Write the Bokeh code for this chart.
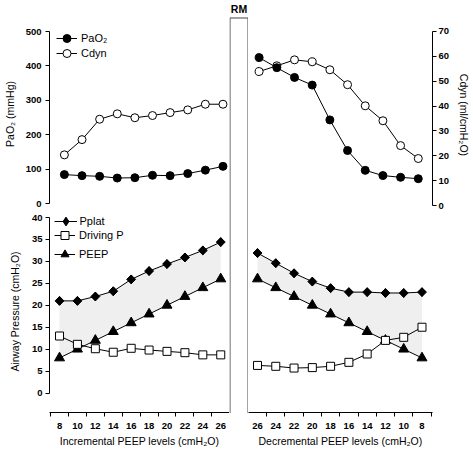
import math
from bokeh.plotting import figure
from bokeh.models import Range1d, LinearAxis, FixedTicker, Legend, LegendItem, Label
from bokeh.layouts import row, column
from bokeh.embed import file_html
from bokeh.resources import INLINE

FONT = "Liberation Sans"

# ---------------- data ----------------
peep_inc = [8, 10, 12, 14, 16, 18, 20, 22, 24, 26]
peep_dec = [26, 24, 22, 20, 18, 16, 14, 12, 10, 8]

pao2_inc = [84, 81, 79, 74, 75, 82, 81, 87, 97, 108]
cdyn_inc = [19.8, 26.0, 34.3, 36.5, 34.9, 35.8, 37.0, 38.1, 40.4, 40.4]
pao2_dec = [425, 396, 368, 346, 246, 158, 101, 86, 81, 77]
cdyn_dec = [53.9, 56.2, 58.6, 57.8, 54.6, 48.6, 40.1, 34.1, 24.1, 18.9]

pplat_inc = [21.0, 21.0, 22.0, 23.2, 25.9, 27.8, 29.4, 30.9, 32.5, 34.4]
dp_inc = [13.0, 11.1, 10.1, 9.3, 10.2, 9.8, 9.5, 9.2, 8.7, 8.7]
peepval_inc = [8, 10, 12, 14, 16, 18, 20, 22, 24, 26]

pplat_dec = [31.9, 29.6, 27.3, 25.4, 23.9, 23.0, 23.0, 22.8, 22.8, 23.0]
dp_dec = [6.3, 6.1, 5.7, 5.8, 6.1, 7.0, 8.9, 12.0, 12.7, 15.0]
peepval_dec = [26, 24, 22, 20, 18, 16, 14, 12, 10, 8]

pao2_ticks = [0, 100, 200, 300, 400, 500]
cdyn_ticks = [0, 10, 20, 30, 40, 50, 60, 70]
paw_ticks = [0, 5, 10, 15, 20, 25, 30, 35, 40]
x_label_ticks = [8, 10, 12, 14, 16, 18, 20, 22, 24, 26]
x_mark_ticks = [7, 9, 11, 13, 15, 17, 19, 21, 23, 25, 27]

rm_box_x = [0, 0, 1, 1]
rm_box_y = [0, 1, 1, 0]

BLACK = "black"
FILL = "#efefef"


def make_fig(w, h, xr, yr, left, right, top, bottom, extra_y=None):
    p = figure(width=w, height=h, x_range=xr, y_range=yr,
               output_backend="svg", toolbar_location=None,
               x_axis_location=None, y_axis_location=None,
               min_border_left=left, min_border_right=right,
               min_border_top=top, min_border_bottom=bottom)
    if extra_y:
        p.extra_y_ranges = extra_y
    p.outline_line_color = None
    p.background_fill_color = "white"
    p.border_fill_color = "white"
    for g in p.grid:
        g.visible = False
    return p


def style_axis(ax, label_standoff, tick_standoff):
    ax.axis_line_color = BLACK
    ax.axis_line_width = 1
    ax.major_tick_line_color = BLACK
    ax.major_tick_out = 4
    ax.major_tick_in = 0
    ax.minor_tick_line_color = None
    ax.major_label_text_font = FONT
    ax.major_label_text_font_style = "bold"
    ax.major_label_text_font_size = "9.5px"
    ax.major_label_text_color = BLACK
    ax.major_label_standoff = tick_standoff
    ax.axis_label_text_font = FONT
    ax.axis_label_text_font_style = "normal"
    ax.axis_label_text_font_size = "10.5px"
    ax.axis_label_text_color = BLACK
    ax.axis_label_standoff = label_standoff


def style_xaxis(ax, ticks):
    style_axis(ax, 3, 6)
    ax.ticker = FixedTicker(ticks=ticks, minor_ticks=x_mark_ticks)
    ax.major_tick_line_color = None
    ax.minor_tick_line_color = BLACK
    ax.minor_tick_out = 4
    ax.minor_tick_in = 0


def line_marker(p, x, y, marker, fill, size, yname="default", angle=0.0):
    ln = p.line(x, y, line_color=BLACK, line_width=1, y_range_name=yname)
    sc = p.scatter(x, y, marker=marker, size=size, angle=angle,
                   fill_color=fill, line_color=BLACK, line_width=1,
                   y_range_name=yname)
    return [ln, sc]


def pplat_series(p, x, y):
    # diamond key for the legend (legends do not rotate markers), drawn
    # underneath the plotted rotated squares
    ln = p.line(x, y, line_color=BLACK, line_width=1)
    key = p.scatter(x, y, marker="diamond", size=8.5, fill_color=BLACK,
                    line_color=BLACK, line_width=1)
    p.scatter(x, y, marker="square", size=6.3, angle=math.pi / 4,
              fill_color=BLACK, line_color=BLACK, line_width=1)
    return [ln, key]


def add_legend_item(p, label, renderers, vx, vy, glyph=20, standoff=4):
    lg = Legend(items=[LegendItem(label=label, renderers=renderers)],
                location=(vx, vy), padding=0, margin=0, spacing=0,
                glyph_width=glyph + 1, glyph_height=glyph,
                label_height=glyph, label_standoff=standoff,
                label_text_font=FONT, label_text_font_size="11px",
                label_text_color=BLACK,
                border_line_color=None, background_fill_alpha=0)
    p.add_layout(lg)


# ---------------- top-left: PaO2 / Cdyn incremental ----------------
A = make_fig(229, 210, Range1d(6.31, 26.74), Range1d(0, 520.35), 44, 0, 24, 7,
             extra_y={"cdyn": Range1d(0, 72.85)})
axA = LinearAxis(axis_label="PaO\u2082 (mmHg)", ticker=FixedTicker(ticks=pao2_ticks),
                 bounds=(0, 500))
style_axis(axA, 7, 4)
A.add_layout(axA, "left")
rA_cdyn = line_marker(A, peep_inc, cdyn_inc, "circle", "white", 8, yname="cdyn")
rA_pao2 = line_marker(A, peep_inc, pao2_inc, "circle", BLACK, 8)
add_legend_item(A, "PaO\u2082", rA_pao2, 7, 155)
add_legend_item(A, "Cdyn", rA_cdyn, 7, 140)

# ---------------- bottom-left: airway pressures incremental ----------------
B = make_fig(229, 240, Range1d(6.881, 26.978), Range1d(-4.43, 41.595), 44, 0, 0, 38)
B.varea(x=peep_inc, y1=peepval_inc, y2=pplat_inc, fill_color=FILL)
axB = LinearAxis(axis_label="Airway Pressure (cmH\u2082O)",
                 ticker=FixedTicker(ticks=paw_ticks), bounds=(0, 40))
style_axis(axB, 8, 3)
B.add_layout(axB, "left")
bxB = LinearAxis(axis_label="Incremental PEEP levels (cmH\u2082O)")
style_xaxis(bxB, x_label_ticks)
B.add_layout(bxB, "below")
rB_pplat = pplat_series(B, peep_inc, pplat_inc)
rB_peep = line_marker(B, peep_inc, peepval_inc, "triangle", BLACK, 10)
rB_dp = line_marker(B, peep_inc, dp_inc, "square", "white", 8)
add_legend_item(B, "Pplat", rB_pplat, 4.5, 180, glyph=22, standoff=3)
add_legend_item(B, "Driving P", rB_dp, 5, 167)
add_legend_item(B, "PEEP", rB_peep, 5, 148.5)

# ---------------- middle: RM box ----------------
M = make_fig(19, 450, Range1d(-0.5 / 18, 1 + 0.5 / 18), Range1d(-0.0949, 1.0443), 0, 0, 0, 0)
M.line(rm_box_x, rm_box_y, line_color="#444444", line_width=1)
M.add_layout(Label(x=0.5, y=1, text="RM", text_align="center", text_baseline="alphabetic",
                   y_offset=9, text_font=FONT, text_font_style="bold",
                   text_font_size="10.5px", text_color=BLACK))

# ---------------- top-right: PaO2 / Cdyn decremental ----------------
C = make_fig(225, 210, Range1d(27.205, 6.39), Range1d(0, 520.11), 0, 35, 24, 5,
             extra_y={"cdyn": Range1d(0, 72.816)})
axC = LinearAxis(y_range_name="cdyn", axis_label="Cdyn (ml/cmH\u2082O)",
                 ticker=FixedTicker(ticks=cdyn_ticks), bounds=(0, 70))
style_axis(axC, 6, 2)
C.add_layout(axC, "right")
line_marker(C, peep_dec, cdyn_dec, "circle", "white", 8, yname="cdyn")
line_marker(C, peep_dec, pao2_dec, "circle", BLACK, 8)

# ---------------- bottom-right: airway pressures decremental ----------------
D = make_fig(225, 240, Range1d(26.985, 6.85), Range1d(-4.43, 41.595), 0, 41, 0, 38)
D.varea(x=peep_dec, y1=peepval_dec, y2=pplat_dec, fill_color=FILL)
bxD = LinearAxis(axis_label="Decremental PEEP levels (cmH\u2082O)")
style_xaxis(bxD, x_label_ticks)
D.add_layout(bxD, "below")
pplat_series(D, peep_dec, pplat_dec)
line_marker(D, peep_dec, peepval_dec, "triangle", BLACK, 10)
line_marker(D, peep_dec, dp_dec, "square", "white", 8)

layout = row(column(A, B), M, column(C, D))

open("out.html", "w").write(file_html(layout, INLINE))
